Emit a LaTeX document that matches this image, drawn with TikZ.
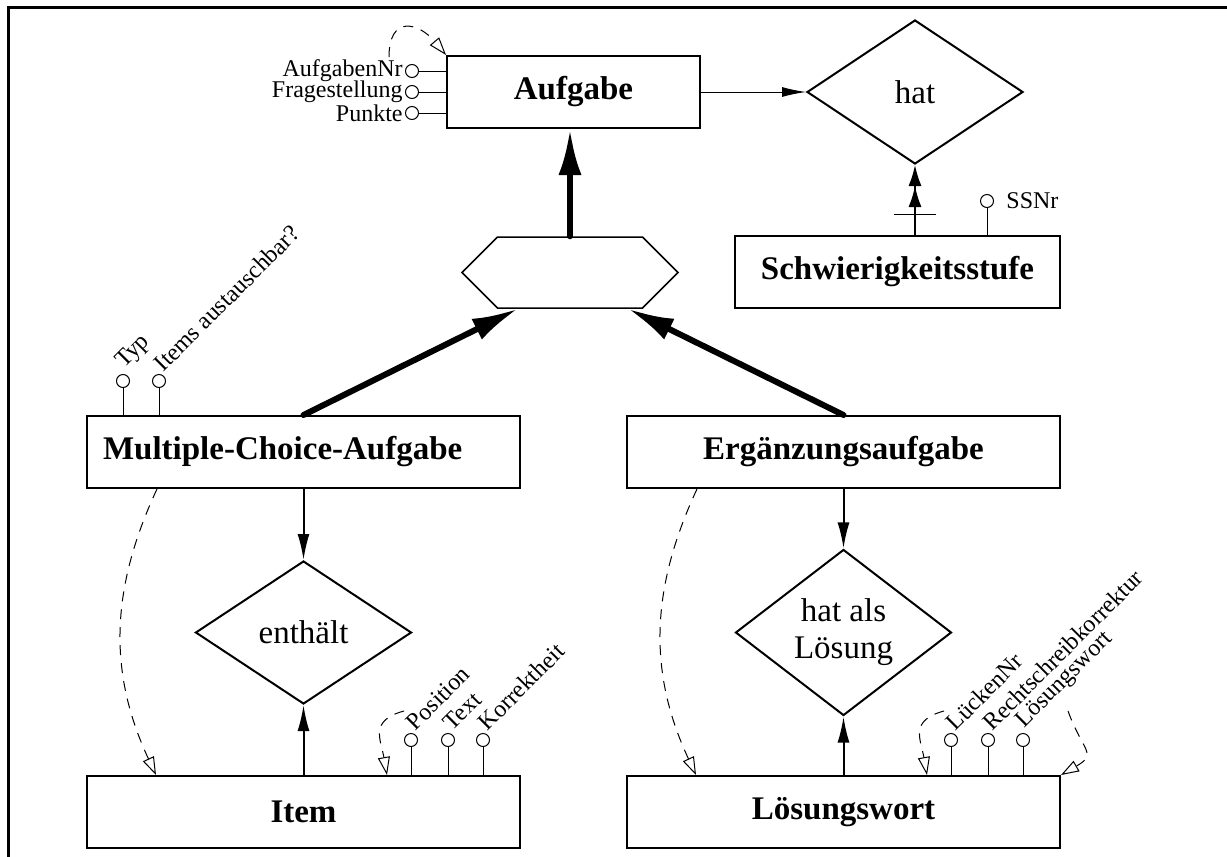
\documentclass[tikz,border=0pt]{standalone}
\usepackage{fontspec}
\setmainfont{Liberation Serif}
\usetikzlibrary{shapes.geometric,shapes.symbols,arrows.meta}

\tikzset{
  entity/.style={draw, line width=1pt, inner sep=0pt, minimum height=36pt,
    font=\fontsize{16.5}{18}\selectfont\bfseries},
  relation/.style={draw, diamond, line width=1pt, inner sep=0pt, minimum width=108pt,
    minimum height=72pt, align=center, font=\fontsize{16.5}{18.5}\selectfont},
  attr/.style={circle, draw, line width=0.5pt, inner sep=0pt, minimum size=6.5pt},
  attrlabel/.style={font=\fontsize{12}{12}\selectfont, inner sep=1pt},
  attrline/.style={line width=0.5pt},
  rel/.style={line width=1pt, -{Latex[length=13pt,width=6pt]}},
  isa/.style={line width=3pt, line cap=round, -{Latex[length=23pt,width=11.5pt]}},
  selfref/.style={line width=0.5pt, dash pattern=on 5pt off 4pt,
    -{Triangle[open,length=9pt,width=6pt]}}
}

\begin{document}
\begin{tikzpicture}[x=0.5pt, y=0.5pt]
  \useasboundingbox (0,0) rectangle (1227,-857);

  % Rahmen
  \draw[line width=1.5pt] (8,-857) |- (1227,-7);

  % Entity: Aufgabe
  \node[entity, minimum width=126.5pt] (aufgabe) at (573.5,-92) {Aufgabe};
  \node[attr, label={[attrlabel]left:AufgabenNr}] (anr) at (412,-71) {};
  \node[attr, label={[attrlabel]left:Fragestellung}] (frage) at (412,-92) {};
  \node[attr, label={[attrlabel]left:Punkte}] (punkte) at (412,-113) {};
  \foreach \a in {anr,frage,punkte}
    \draw[attrline] (\a) -- (\a -| aufgabe.west);
  \draw[selfref] ([xshift=-28.5pt,yshift=-1pt]aufgabe.north west)
    to[out=90, in=130, looseness=1.9] (aufgabe.north west);

  % Relationship: hat
  \node[relation] (hat) at (915,-92) {hat};
  \draw[line width=0.5pt, -{Latex[length=12pt,width=5pt]}] (aufgabe.east) -- (hat.west);

  % Entity: Schwierigkeitsstufe
  \node[entity, minimum width=162.5pt] (stufe) at (897.5,-272) {Schwierigkeitsstufe};
  \draw[line width=0.75pt, -{Latex[length=10.5pt,width=6.5pt]Latex[length=10.5pt,width=6.5pt]}]
    (hat.south |- stufe.north) -- coordinate[pos=0.3] (bar) (hat.south);
  \draw[attrline] ([xshift=-10.5pt]bar) -- ([xshift=10.5pt]bar);
  \node[attr, label={[attrlabel, label distance=5pt]right:SSNr}] (ssnr) at (987,-201) {};
  \draw[attrline] (ssnr) -- (ssnr |- stufe.north);

  % Generalisierung
  \node[draw, signal, signal to=east and west, signal pointer angle=90, line width=0.75pt,
    inner sep=0pt, minimum width=108pt, minimum height=35.5pt] (hexa) at (570,-272.5) {};
  \draw[isa] (hexa.north) -- (hexa.north |- aufgabe.south);

  % Entity: Multiple-Choice-Aufgabe
  \node[entity, text width=200.5pt, inner xsep=8pt, align=left] (mcaufgabe) at (303.5,-452)
    {Multiple-Choice-Aufgabe};
  \node[attr, label={[attrlabel, rotate=45, anchor=south west]north east:Typ}] (typ) at (123,-381) {};
  \node[attr, label={[attrlabel, rotate=45, anchor=south west]north east:Items austauschbar?}]
    (austausch) at (159,-381) {};
  \foreach \a in {typ,austausch}
    \draw[attrline] (\a) -- (\a |- mcaufgabe.north);
  \draw[isa] (mcaufgabe.north) -- ([xshift=-26pt]hexa.south);

  % Entity: Ergaenzungsaufgabe
  \node[entity, minimum width=216.5pt] (ergaufgabe) at (843.5,-452) {Ergänzungsaufgabe};
  \draw[isa] (ergaufgabe.north) -- ([xshift=29pt]hexa.south);

  % Relationship: enthaelt
  \node[relation, minimum height=71.5pt] (enthaelt) at (303.5,-632.5) {enthält};
  \draw[rel] (mcaufgabe.south) -- (enthaelt.north);

  % Entity: Item
  \node[entity, minimum width=216.5pt] (item) at (303.5,-812) {Item};
  \draw[rel] (item.north) -- (enthaelt.south);
  \node[attr, label={[attrlabel, rotate=45, anchor=south west]north east:Position}] (pos) at (411,-740) {};
  \node[attr, label={[attrlabel, rotate=45, anchor=south west]north east:Text}] (txt) at (448,-740) {};
  \node[attr, label={[attrlabel, rotate=45, anchor=south west]north east:Korrektheit}] (korrekt) at (483,-740) {};
  \foreach \a in {pos,txt,korrekt}
    \draw[attrline] (\a) -- (\a |- item.north);
  \draw[selfref] ([xshift=159pt,yshift=32pt]item.north west)
    to[out=195, in=100, looseness=1.4] ([xshift=150.5pt]item.north west);
  \draw[selfref] ([xshift=35.5pt]mcaufgabe.south west)
    to[out=245, in=115] ([xshift=35pt]item.north west);

  % Relationship: hat als Loesung
  \node[relation, minimum height=71.5pt] (hatals) at (843.5,-632.5) {hat als\\Lösung};
  \draw[rel] (ergaufgabe.south) -- (hatals.north);

  % Entity: Loesungswort
  \node[entity, minimum width=216.5pt] (loesungswort) at (843.5,-812) {Lösungswort};
  \draw[rel] (loesungswort.north) -- (hatals.south);
  \node[attr, label={[attrlabel, rotate=45, anchor=south west]north east:LückenNr}] (lnr) at (951,-740) {};
  \node[attr, label={[attrlabel, rotate=45, anchor=south west]north east:Rechtschreibkorrektur}] (rskorr) at (988,-740) {};
  \node[attr, label={[attrlabel, rotate=45, anchor=south west]north east:Lösungswort}] (lwort) at (1023,-740) {};
  \foreach \a in {lnr,rskorr,lwort}
    \draw[attrline] (\a) -- (\a |- loesungswort.north);
  \draw[selfref] ([xshift=159pt,yshift=32pt]loesungswort.north west)
    to[out=195, in=100, looseness=1.4] ([xshift=150.5pt]loesungswort.north west);
  \draw[selfref] ([xshift=3.5pt,yshift=32pt]loesungswort.north east)
    to[out=-70, in=30, looseness=1.7] (loesungswort.north east);
  \draw[selfref] ([xshift=35.5pt]ergaufgabe.south west)
    to[out=245, in=115] ([xshift=35pt]loesungswort.north west);
\end{tikzpicture}
\end{document}
